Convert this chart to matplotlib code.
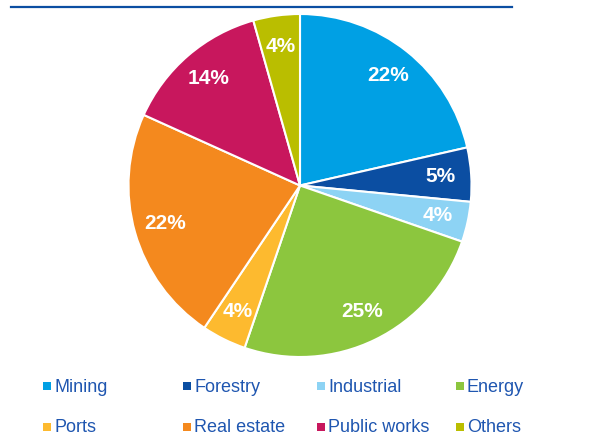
import matplotlib
matplotlib.use("Agg")
import matplotlib.pyplot as plt
import numpy as np
from matplotlib.lines import Line2D
from matplotlib.patches import Rectangle

categories = ["Mining", "Forestry", "Industrial", "Energy",
              "Ports", "Real estate", "Public works", "Others"]
shares = [21.5, 5.1, 3.8, 25.0, 4.2, 22.4, 13.9, 4.4]
pct_labels = ["22%", "5%", "4%", "25%", "4%", "22%", "14%", "4%"]
colors = ["#00A0E4", "#0B4EA2", "#8DD3F4", "#8CC63E",
          "#FDBA2F", "#F4891E", "#C8175D", "#BABE00"]

W, H = 602, 446
fig = plt.figure(figsize=(W / 100, H / 100), dpi=100)

# pie: centre (300,185) px, radius 171.5 px
cx, cy, r = 300, 185.5, 171.5
ax = fig.add_axes([(cx - r) / W, 1 - (cy + r) / H, 2 * r / W, 2 * r / H])
wedges, texts = ax.pie(
    shares, colors=colors, startangle=90, counterclock=False,
    wedgeprops=dict(edgecolor="white", linewidth=1.5))
ax.set_xlim(-1, 1)
ax.set_ylim(-1, 1)
ax.set_aspect("equal")

for w, lab in zip(wedges, pct_labels):
    ang = np.deg2rad((w.theta1 + w.theta2) / 2)
    ax.text(0.82 * np.cos(ang), 0.82 * np.sin(ang), lab, color="white",
            fontsize=15, fontweight="bold", family="Liberation Sans",
            ha="center", va="center")

# blue rule at top
fig.add_artist(Line2D([11 / W, 512 / W], [1 - 6.5 / H] * 2,
                      color="#0B4EA2", linewidth=1.6))

# legend, 2 rows x 4 columns
col_x = [43, 183, 317, 456]
row_y = [387, 428]
for i, (name, c) in enumerate(zip(categories, colors)):
    x = col_x[i % 4]
    y = row_y[i // 4]
    fig.add_artist(Rectangle((x / W, 1 - (y + 3) / H), 8 / W, 8 / H,
                             facecolor=c, edgecolor="none",
                             transform=fig.transFigure))
    fig.text((x + 11) / W, 1 - y / H, name, color="#1F56B0",
             fontsize=13, family="Liberation Sans", va="center", ha="left")

plt.savefig("out.png", dpi=100)
